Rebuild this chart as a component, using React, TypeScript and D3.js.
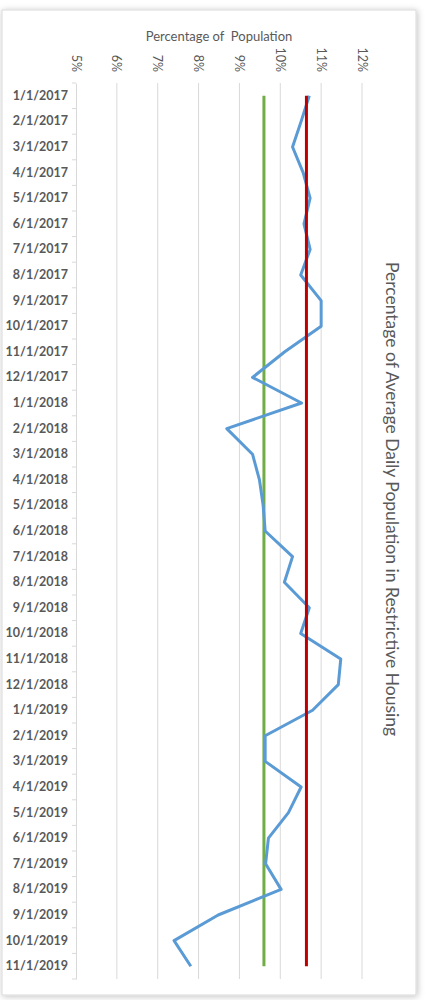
import { useEffect, useRef } from "react";
import * as d3 from "d3";

const months = [
  "1/1/2017", "2/1/2017", "3/1/2017", "4/1/2017", "5/1/2017", "6/1/2017",
  "7/1/2017", "8/1/2017", "9/1/2017", "10/1/2017", "11/1/2017", "12/1/2017",
  "1/1/2018", "2/1/2018", "3/1/2018", "4/1/2018", "5/1/2018", "6/1/2018",
  "7/1/2018", "8/1/2018", "9/1/2018", "10/1/2018", "11/1/2018", "12/1/2018",
  "1/1/2019", "2/1/2019", "3/1/2019", "4/1/2019", "5/1/2019", "6/1/2019",
  "7/1/2019", "8/1/2019", "9/1/2019", "10/1/2019", "11/1/2019",
];

// percent of average daily population in restrictive housing
const share = [
  10.71, 10.51, 10.3, 10.56, 10.73, 10.58, 10.73, 10.5, 11.0, 11.0, 10.11, 9.32,
  10.52, 8.69, 9.32, 9.49, 9.58, 9.63, 10.3, 10.1, 10.71, 10.5, 11.48, 11.42,
  10.79, 9.63, 9.63, 10.51, 10.2, 9.71, 9.64, 10.02, 8.48, 7.4, 7.81,
];

const greenLevel = 9.6;
const redLevel = 10.64;
const pctTicks = [5, 6, 7, 8, 9, 10, 11, 12];

export default function App() {
  const ref = useRef<SVGSVGElement>(null);

  useEffect(() => {
    const width = 425;
    const height = 1000;
    const font = "Lato, 'Open Sans', sans-serif";
    const grey = "#595959";

    const svg = d3.select(ref.current).attr("viewBox", `0 0 ${width} ${height}`);
    svg.selectAll("*").remove();

    const defs = svg.append("defs");
    const f = defs.append("filter").attr("id", "shadow").attr("x", "-5%").attr("y", "-5%")
      .attr("width", "110%").attr("height", "110%");
    f.append("feDropShadow").attr("dx", 1).attr("dy", 1).attr("stdDeviation", 3)
      .attr("flood-color", "#000").attr("flood-opacity", 0.25);

    svg.append("rect")
      .attr("x", 2).attr("y", 10).attr("width", 414).attr("height", 985)
      .attr("fill", "#fff").attr("stroke", "#d9d9d9").attr("filter", "url(#shadow)");

    const x = d3.scaleLinear().domain([5, 12]).range([76, 362]);
    const y = d3.scaleBand().domain(months).range([83, 979]);
    const yc = (d: string) => (y(d) ?? 0) + y.bandwidth() / 2;

    // gridlines
    svg.append("g")
      .selectAll("line")
      .data(pctTicks.slice(1))
      .join("line")
      .attr("x1", d => x(d)).attr("x2", d => x(d))
      .attr("y1", 83).attr("y2", 979)
      .attr("stroke", "#d9d9d9").attr("stroke-width", 1);

    // percent labels
    svg.append("g")
      .selectAll("text")
      .data(pctTicks)
      .join("text")
      .attr("transform", d => `translate(${x(d)},72) rotate(90)`)
      .attr("text-anchor", "end")
      .attr("dy", "0.35em")
      .attr("font-family", font).attr("font-size", 12.5).attr("fill", grey)
      .text(d => `${d}%`);

    // category axis
    const yAxis = svg.append("g")
      .attr("transform", "translate(76,0)")
      .call(d3.axisLeft(y).tickSize(0).tickPadding(8));
    yAxis.select(".domain").attr("stroke", "#d9d9d9");
    yAxis.selectAll("text")
      .attr("font-family", font).attr("font-size", 12.5).attr("font-weight", 700)
      .attr("fill", grey);
    yAxis.selectAll("line.sep")
      .data(d3.range(months.length + 1))
      .join("line")
      .attr("class", "sep")
      .attr("x1", -4).attr("x2", 0)
      .attr("y1", i => 83 + i * y.step()).attr("y2", i => 83 + i * y.step())
      .attr("stroke", "#d9d9d9");

    // reference lines
    const level = (v: number, color: string) =>
      svg.append("line")
        .attr("x1", x(v)).attr("x2", x(v))
        .attr("y1", yc(months[0])).attr("y2", yc(months[months.length - 1]))
        .attr("stroke", color).attr("stroke-width", 3);
    level(greenLevel, "#70AD47");

    const line = d3.line<number>()
      .x(d => x(d))
      .y((_, i) => yc(months[i]));
    svg.append("path")
      .datum(share)
      .attr("fill", "none")
      .attr("stroke", "#5B9BD5")
      .attr("stroke-width", 3)
      .attr("stroke-linejoin", "round")
      .attr("d", line);

    level(redLevel, "#C00000");

    svg.append("text")
      .attr("x", 219).attr("y", 41)
      .attr("text-anchor", "middle")
      .attr("font-family", font).attr("font-size", 13).attr("fill", grey)
      .attr("xml:space", "preserve")
      .text("Percentage of  Population");

    svg.append("text")
      .attr("transform", "translate(392,499) rotate(90)")
      .attr("text-anchor", "middle")
      .attr("dy", "0.35em")
      .attr("font-family", font).attr("font-size", 17.5).attr("fill", grey)
      .text("Percentage of Average Daily Population in Restrictive Housing");
  }, []);

  return (
    <svg
      ref={ref}
      width={425}
      height={1000}
      style={{ position: "absolute", left: 0, top: 0, display: "block" }}
    />
  );
}
